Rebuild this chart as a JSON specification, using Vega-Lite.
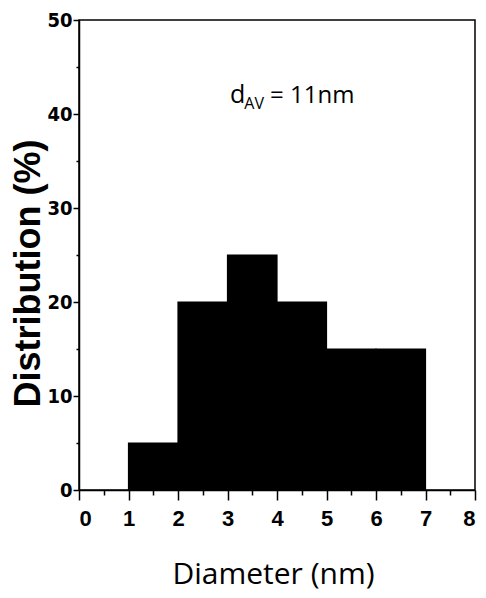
{
  "$schema": "https://vega.github.io/schema/vega-lite/v6.json",
  "width": 396,
  "height": 470,
  "autosize": "none",
  "padding": {"left": 79, "top": 20, "right": 11, "bottom": 108},
  "background": "white",
  "config": {
    "view": {"stroke": "black", "strokeWidth": 1.5},
    "axis": {"domainColor": "black", "domainWidth": 1.5, "tickColor": "black", "tickWidth": 1.5, "grid": false, "labelColor": "black", "titleColor": "black"}
  },
  "data": {"values": [
    {"bin_start": 1, "bin_end": 2, "value": 5},
    {"bin_start": 2, "bin_end": 3, "value": 20},
    {"bin_start": 3, "bin_end": 4, "value": 25},
    {"bin_start": 4, "bin_end": 5, "value": 20},
    {"bin_start": 5, "bin_end": 6, "value": 15},
    {"bin_start": 6, "bin_end": 7, "value": 15}
  ]},
  "layer": [
    {
      "mark": {"type": "rect", "color": "black", "stroke": "black", "strokeWidth": 1.2},
      "encoding": {
        "x": {"field": "bin_start", "type": "quantitative", "scale": {"domain": [0, 8], "nice": false},
          "axis": {"orient": "bottom", "values": [0,1,2,3,4,5,6,7,8], "tickSize": 10, "labelFont": "Liberation Sans", "labelFontWeight": "bold", "labelFontSize": 22, "labelPadding": 8,
            "title": "Diameter (nm)", "titleFont": "Open Sans", "titleFontSize": 30, "titleFontWeight": "normal", "titleY": 84, "titleX": 194, "titleBaseline": "middle", "titleAlign": "center"}},
        "x2": {"field": "bin_end"},
        "y": {"field": "value", "type": "quantitative", "scale": {"domain": [0, 50], "nice": false},
          "axis": {"orient": "left", "values": [0,10,20,30,40,50], "tickSize": 6, "labelFont": "DejaVu Sans Condensed, Liberation Sans, sans-serif", "labelFontWeight": "bold", "labelFontSize": 20, "labelPadding": 1,
            "title": "Distribution (%)", "titleFont": "Liberation Sans", "titleFontSize": 36, "titleFontWeight": "bold", "titleX": -51, "titleY": 253, "titleAngle": 270, "titleAlign": "center", "titleBaseline": "middle"}},
        "y2": {"datum": 0}
      }
    },
    {
      "mark": {"type": "point", "opacity": 0},
      "encoding": {
        "x": {"field": "bin_start", "type": "quantitative", "axis": {"orient": "bottom", "values": [0.5,1.5,2.5,3.5,4.5,5.5,6.5,7.5], "tickSize": 5, "labels": false, "domain": false, "title": null}},
        "y": {"field": "value", "type": "quantitative", "axis": {"orient": "left", "values": [5,15,25,35,45], "tickSize": 3, "labels": false, "domain": false, "title": null}}
      }
    },
    {
      "data": {"values": [{"label": "d"}]},
      "mark": {"type": "text", "font": "Open Sans", "fontSize": 25, "align": "left", "baseline": "alphabetic", "color": "black"},
      "encoding": {
        "x": {"datum": 3.05, "type": "quantitative", "axis": null},
        "y": {"datum": 41.2, "type": "quantitative", "axis": null},
        "text": {"field": "label"}
      }
    },
    {
      "data": {"values": [{"label": "AV"}]},
      "mark": {"type": "text", "font": "Open Sans", "fontSize": 16, "align": "left", "baseline": "alphabetic", "color": "black"},
      "encoding": {
        "x": {"datum": 3.34, "type": "quantitative", "axis": null},
        "y": {"datum": 40.5, "type": "quantitative", "axis": null},
        "text": {"field": "label"}
      }
    },
    {
      "data": {"values": [{"label": "= 11nm"}]},
      "mark": {"type": "text", "font": "Open Sans", "fontSize": 24, "align": "left", "baseline": "alphabetic", "color": "black"},
      "encoding": {
        "x": {"datum": 3.86, "type": "quantitative", "axis": null},
        "y": {"datum": 41.2, "type": "quantitative", "axis": null},
        "text": {"field": "label"}
      }
    }
  ],
  "resolve": {"axis": {"x": "independent", "y": "independent"}}
}
